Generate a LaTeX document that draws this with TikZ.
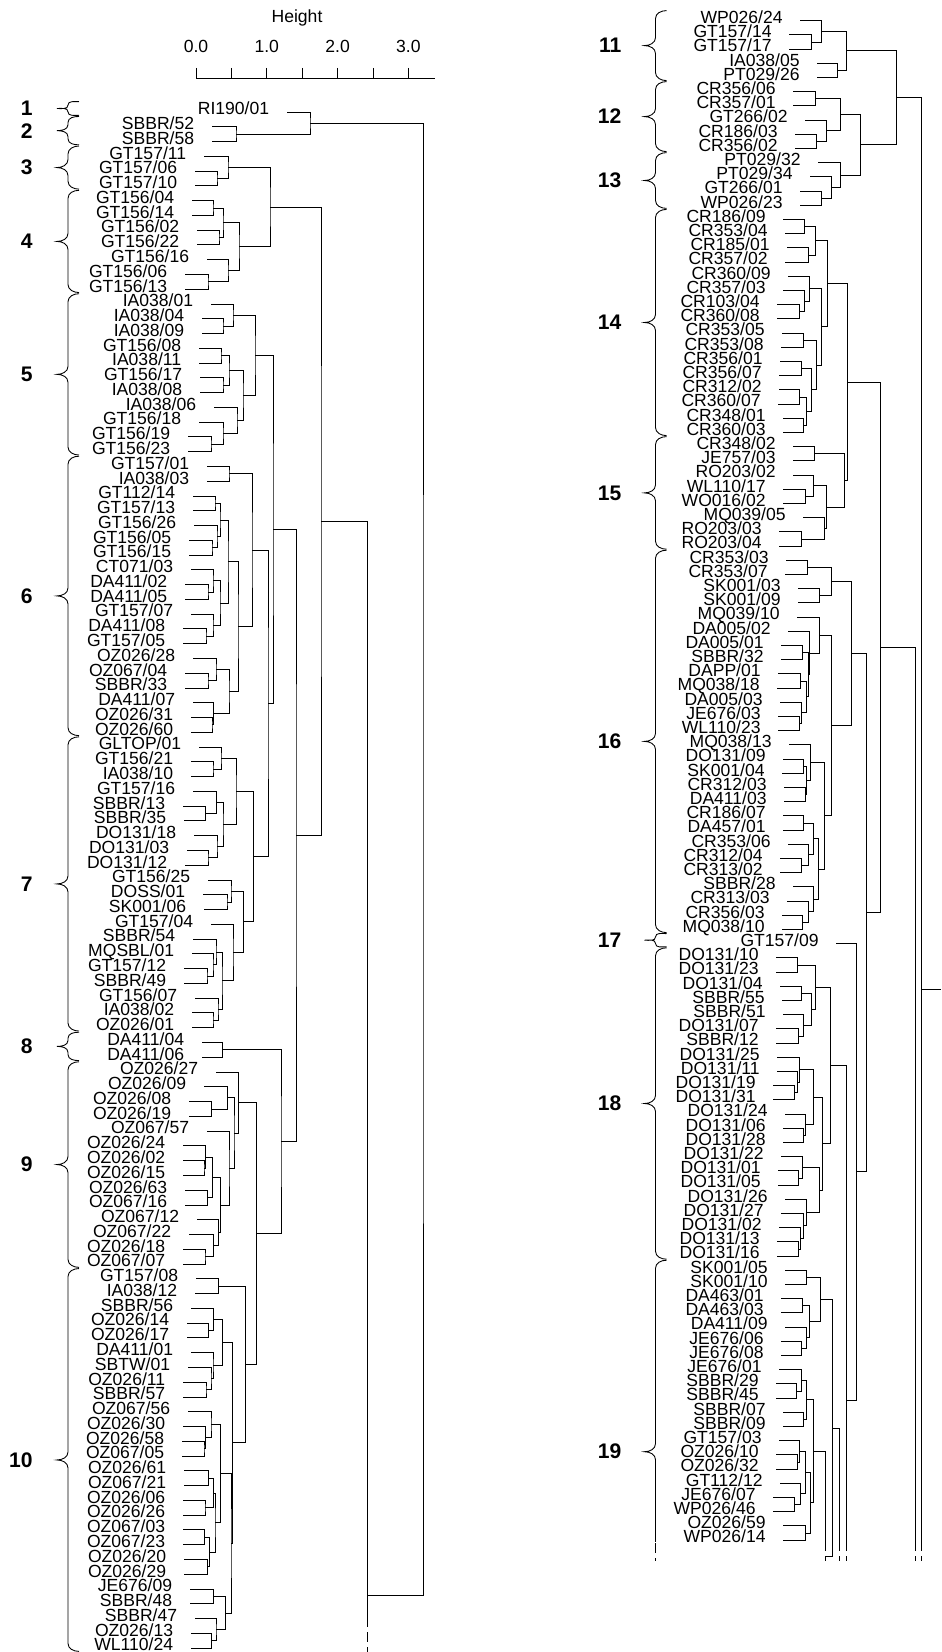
\documentclass[tikz,border=0pt]{standalone}
\usepackage{fontspec}
\setmainfont{Liberation Sans}
\usetikzlibrary{calc,positioning}
\tikzset{
  link/.style={line width=0.55pt,black},
  lab/.style={font=\fontsize{10}{10}\selectfont,inner sep=0pt,text height=7.2pt,text depth=0pt},
  num/.style={font=\bfseries\fontsize{12}{12}\selectfont,inner sep=0pt,anchor=east},
  brl/.style={line width=0.5pt},
  dsh/.style={dash pattern=on 0.2cm off 0.1cm}
}
% one merge: name, child a, child b, height (x)
\newcommand\merge[4]{%
  \coordinate (tmpmid) at ($(#2)!0.5!(#3)$);
  \coordinate (tmpx) at (#4,0);
  \coordinate (#1) at (tmpx |- tmpmid);
  \draw[link] (#2) -| (#1) |- (#3);
}
% curly brace: x of ends, top, bottom, curl height
\newcommand\cbr[4]{%
  \draw[brl] (#1,#2) to[out=180,in=90] ({#1-11},{#2+#4}) -- ({#1-11},{(#2+#3)/2-#4})
    to[out=-90,in=0] ({#1-22},{(#2+#3)/2}) to[out=0,in=90] ({#1-11},{(#2+#3)/2+#4})
    -- ({#1-11},{#3-#4}) to[out=-90,in=180] (#1,#3);
}

\begin{document}
\begin{tikzpicture}[x=0.02cm,y=-0.02cm]
\useasboundingbox (0,0) rectangle (941,1652);

% height axis
\coordinate (ax0) at (196,78.7);
\coordinate (ax1) at (435,78.7);
\draw[link] (ax0) -- (ax1);
\foreach \t in {0,...,6} \draw[link] ({196+\t*35.4},68) -- ({196+\t*35.4},78.7);
\foreach \v [count=\k from 0] in {0.0,1.0,2.0,3.0} \node[lab] (tk\k) at ({196+\k*70.8},46) {\v};
\node[lab] (ht) at (297,16) {Height};

% left leaves
\foreach \lab/\xs [count=\i from 0] in {{RI190/01}/287, {SBBR/52}/212, {SBBR/58}/212, {GT157/11}/204, {GT157/06}/195, {GT157/10}/195, {GT156/04}/192, {GT156/14}/192, {GT156/02}/197, {GT156/22}/197, {GT156/16}/207, {GT156/06}/185, {GT156/13}/185, {IA038/01}/211, {IA038/04}/202, {IA038/09}/202, {GT156/08}/199, {IA038/11}/199, {GT156/17}/200, {IA038/08}/200, {IA038/06}/214, {GT156/18}/199, {GT156/19}/188, {GT156/23}/188, {GT157/01}/207, {IA038/03}/207, {GT112/14}/193, {GT157/13}/193, {GT156/26}/194, {GT156/05}/189, {GT156/15}/189, {CT071/03}/191, {DA411/02}/185, {DA411/05}/185, {GT157/07}/191, {DA411/08}/183, {GT157/05}/183, {OZ026/28}/193, {OZ067/04}/185, {SBBR/33}/185, {DA411/07}/193, {OZ026/31}/191, {OZ026/60}/191, {GLTOP/01}/199, {GT156/21}/191, {IA038/10}/191, {GT157/16}/193, {SBBR/13}/183, {SBBR/35}/184, {DO131/18}/194, {DO131/03}/187, {DO131/12}/185, {GT156/25}/208, {DOSS/01}/203, {SK001/06}/204, {GT157/04}/211, {SBBR/54}/193, {MQSBL/01}/192, {GT157/12}/184, {SBBR/49}/184, {GT156/07}/195, {IA038/02}/192, {OZ026/01}/192, {DA411/04}/202, {DA411/06}/202, {OZ026/27}/216, {OZ026/09}/204, {OZ026/08}/189, {OZ026/19}/189, {OZ067/57}/207, {OZ026/24}/183, {OZ026/02}/183, {OZ026/15}/183, {OZ026/63}/185, {OZ067/16}/185, {OZ067/12}/197, {OZ067/22}/189, {OZ026/18}/183, {OZ067/07}/183, {GT157/08}/196, {IA038/12}/195, {SBBR/56}/191, {OZ026/14}/187, {OZ026/17}/187, {DA411/01}/191, {SBTW/01}/188, {OZ026/11}/183, {SBBR/57}/183, {OZ067/56}/188, {OZ026/30}/183, {OZ026/58}/182, {OZ067/05}/182, {OZ026/61}/184, {OZ067/21}/184, {OZ026/06}/183, {OZ026/26}/183, {OZ067/03}/183, {OZ067/23}/183, {OZ026/20}/184, {OZ026/29}/184, {JE676/09}/190, {SBBR/48}/190, {SBBR/47}/195, {OZ026/13}/191, {WL110/24}/191}{
  \coordinate (L\i) at (\xs,{112+\i*14.77});
  \node[lab,left=0.35cm of L\i,yshift=2pt] (Lt\i) {\lab};
}

% right leaves
\foreach \lab/\xs [count=\i from 0] in {{WP026/24}/800, {GT157/14}/789, {GT157/17}/789, {IA038/05}/817, {PT029/26}/817, {CR356/06}/793, {CR357/01}/793, {GT266/02}/805, {CR186/03}/795, {CR356/02}/795, {PT029/32}/818, {PT029/34}/810, {GT266/01}/800, {WP026/23}/800, {CR186/09}/783, {CR353/04}/785, {CR185/01}/787, {CR357/02}/785, {CR360/09}/788, {CR357/03}/783, {CR103/04}/777, {CR360/08}/777, {CR353/05}/782, {CR353/08}/781, {CR356/01}/780, {CR356/07}/779, {CR312/02}/779, {CR360/07}/778, {CR348/01}/783, {CR360/03}/783, {CR348/02}/793, {JE757/03}/793, {RO203/02}/793, {WL110/17}/783, {WO016/02}/783, {MQ039/05}/803, {RO203/03}/779, {RO203/04}/779, {CR353/03}/786, {CR353/07}/785, {SK001/03}/798, {SK001/09}/798, {MQ039/10}/797, {DA005/02}/788, {DA005/01}/781, {SBBR/32}/781, {DAPP/01}/778, {MQ038/18}/777, {DA005/03}/780, {JE676/03}/778, {WL110/23}/778, {MQ038/13}/789, {DO131/09}/783, {SK001/04}/782, {CR312/03}/784, {DA411/03}/784, {CR186/07}/783, {DA457/01}/783, {CR353/06}/788, {CR312/04}/780, {CR313/02}/780, {SBBR/28}/793, {CR313/03}/787, {CR356/03}/782, {MQ038/10}/782, {GT157/09}/836, {DO131/10}/776, {DO131/23}/776, {DO131/04}/780, {SBBR/55}/782, {SBBR/51}/783, {DO131/07}/776, {SBBR/12}/776, {DO131/25}/777, {DO131/11}/777, {DO131/19}/773, {DO131/31}/773, {DO131/24}/785, {DO131/06}/783, {DO131/28}/783, {DO131/22}/781, {DO131/01}/778, {DO131/05}/778, {DO131/26}/785, {DO131/27}/781, {DO131/02}/779, {DO131/13}/777, {DO131/16}/777, {SK001/05}/785, {SK001/10}/785, {DA463/01}/781, {DA463/03}/781, {DA411/09}/785, {JE676/06}/781, {JE676/08}/781, {JE676/01}/779, {SBBR/29}/776, {SBBR/45}/776, {SBBR/07}/783, {SBBR/09}/783, {GT157/03}/779, {OZ026/10}/776, {OZ026/32}/776, {GT112/12}/780, {JE676/07}/773, {WP026/46}/773, {OZ026/59}/783, {WP026/14}/783}{
  \coordinate (R\i) at (\xs,{20.7+\i*14.2});
  \node[lab,left=0.34cm of R\i,yshift=2pt] (Rt\i) {\lab};
}

% braces and group numbers
\foreach \nb/\ia/\ib/\c in {1/0/0/3.4,2/1/2/6,3/3/5/8,4/6/12/8,5/13/23/8,6/24/42/8,7/43/62/8,8/63/64/6,9/65/78/8,10/79/104/8}{
  \cbr{79}{112+\ia*14.77-10.3}{112+\ib*14.77+3.3}{\c}
  \node[num] (nl\nb) at (33,{112+(\ia+\ib)*7.385-3.5}) {\nb};
}
\foreach \nb/\ia/\ib/\c in {11/0/4/8,12/5/9/8,13/10/13/8,14/14/29/8,15/30/37/8,16/38/64/8,17/65/65/3.3,18/66/87/8}{
  \cbr{666.5}{20.7+\ia*14.2-10.1}{20.7+\ib*14.2+3.1}{\c}
  \node[num] (nr\nb) at (621.7,{20.7+(\ia+\ib)*7.1-3.5}) {\nb};
}
\begin{scope}
\clip (600,1200) rectangle (700,1541);
\cbr{666.5}{1260.2}{1643.2}{8}
\end{scope}
\draw[brl,dsh] (655.5,1543) -- (655.5,1561);
\node[num] (nr19) at (621.7,1451.7) {19};

% cluster 1-2
\merge{a1}{L1}{L2}{236}
\merge{a2}{L0}{a1}{310}
% cluster 3-4
\merge{b1}{L4}{L5}{217}
\merge{b2}{L3}{b1}{228}
\merge{c1}{L6}{L7}{213}
\merge{c2}{L8}{L9}{219}
\merge{c3}{c1}{c2}{223}
\merge{c4}{L11}{L12}{208}
\merge{c5}{L10}{c4}{228}
\merge{c6}{c3}{c5}{239}
\merge{c7}{b2}{c6}{270}
% cluster 5
\merge{d1}{L14}{L15}{223}
\merge{d2}{L13}{d1}{233}
\merge{d3}{L16}{L17}{221}
\merge{d4}{L18}{L19}{223}
\merge{d5}{d3}{d4}{229}
\merge{d6}{L22}{L23}{211}
\merge{d7}{L21}{d6}{223}
\merge{d8}{L20}{d7}{237}
\merge{d9}{d5}{d8}{243}
\merge{d10}{d2}{d9}{255}
% cluster 6
\merge{e1}{L24}{L25}{229}
\merge{e2}{L26}{L27}{215}
\merge{e3}{L29}{L30}{212}
\merge{e4}{L28}{e3}{217}
\merge{e5}{e2}{e4}{220}
\merge{e6}{L32}{L33}{208}
\merge{e7}{L31}{e6}{213}
\merge{e8}{L35}{L36}{206}
\merge{e9}{L34}{e8}{213}
\merge{e10}{e7}{e9}{220}
\merge{e11}{e5}{e10}{228}
\merge{e12}{L38}{L39}{208}
\merge{e13}{L37}{e12}{216}
\merge{e14}{L41}{L42}{212}
\merge{e15}{L40}{e14}{213.5}
\merge{e16}{e13}{e15}{229}
\merge{e17}{e11}{e16}{238}
\merge{e18}{e1}{e17}{252}
% cluster 7
\merge{f1}{L44}{L45}{213}
\merge{f2}{L43}{f1}{221}
\merge{f3}{L47}{L48}{205.7}
\merge{f4}{L46}{f3}{216.7}
\merge{f5}{L50}{L51}{208}
\merge{f6}{L49}{f5}{217}
\merge{f7}{f4}{f6}{223}
\merge{f8}{f2}{f7}{236}
\merge{f9}{L53}{L54}{227}
\merge{f10}{L52}{f9}{231}
\merge{f11}{L58}{L59}{207}
\merge{f12}{L57}{f11}{213}
\merge{f13}{L56}{f12}{216}
\merge{f14}{L61}{L62}{213}
\merge{f15}{L60}{f14}{218}
\merge{f16}{f13}{f15}{222}
\merge{f17}{L55}{f16}{233}
\merge{f18}{f10}{f17}{243.3}
\merge{f19}{f8}{f18}{253.3}
\merge{g1}{e18}{f19}{268}
\merge{g2}{d10}{g1}{273}
% cluster 8-9
\merge{h1}{L63}{L64}{222.7}
\merge{i1}{L67}{L68}{211.7}
\merge{i2}{L66}{i1}{227.7}
\merge{i3}{L71}{L72}{204}
\merge{i4}{L70}{i3}{205.7}
\merge{i5}{L73}{L74}{207.7}
\merge{i6}{i4}{i5}{212.3}
\merge{i7}{L77}{L78}{205}
\merge{i8}{L76}{i7}{213.3}
\merge{i9}{L75}{i8}{218.3}
\merge{i10}{i6}{i9}{220.7}
\merge{i11}{L69}{i10}{229}
\merge{i12}{i2}{i11}{234}
\merge{i13}{L65}{i12}{238.3}
% cluster 10
\merge{j1}{L79}{L80}{218.3}
\merge{j2}{L82}{L83}{208.3}
\merge{j3}{L81}{j2}{213.3}
\merge{j4}{L86}{L87}{206}
\merge{j5}{L85}{j4}{211}
\merge{j6}{L84}{j5}{213}
\merge{j7}{j3}{j6}{222.7}
\merge{j8}{L90}{L91}{204}
\merge{j9}{L89}{j8}{205.7}
\merge{j10}{L88}{j9}{211}
\merge{j11}{L92}{L93}{208.3}
\merge{j12}{L94}{L95}{205}
\merge{j13}{j11}{j12}{213.3}
\merge{j14}{L96}{L97}{204.3}
\merge{j15}{L98}{L99}{207.7}
\merge{j16}{j14}{j15}{209.3}
\merge{j17}{j13}{j16}{215}
\merge{j18}{j10}{j17}{220.7}
\merge{j19}{L100}{L101}{213.3}
\merge{j20}{L103}{L104}{211.7}
\merge{j21}{L102}{j20}{216}
\merge{j22}{j19}{j21}{225.7}
\merge{j23}{j18}{j22}{231}
\merge{j24}{j7}{j23}{232.3}
\merge{j25}{j1}{j24}{245.7}
\merge{k1}{i13}{j25}{256.7}
\merge{k2}{h1}{k1}{281}
\merge{k3}{g2}{k2}{296}
\merge{k4}{c7}{k3}{321}
\coordinate (k5) at (367,1595);
\merge{k6}{a2}{k5}{423}
\coordinate (k5cut) at (367,1617);
\coordinate (k5end) at (367,1652);
\draw[link] (k4) -| (k5cut);
\draw[link,dsh] (k5cut) -- (k5end);

% cluster 11-13
\merge{m1}{R1}{R2}{811.7}
\merge{m2}{R0}{m1}{821.7}
\merge{m3}{R3}{R4}{837.7}
\merge{m4}{m2}{m3}{846.7}
\merge{n1}{R5}{R6}{815}
\merge{n2}{R8}{R9}{816.7}
\merge{n3}{R7}{n2}{826.7}
\merge{n4}{n1}{n3}{840}
\merge{o1}{R12}{R13}{821.7}
\merge{o2}{R11}{o1}{831.7}
\merge{o3}{R10}{o2}{840.7}
\merge{o4}{n4}{o3}{860}
\merge{o5}{m4}{o4}{896}
% cluster 14-15
\merge{p1}{R14}{R15}{804.3}
\merge{p2}{R16}{R17}{808.3}
\merge{p3}{p1}{p2}{815}
\merge{p4}{R20}{R21}{799.3}
\merge{p5}{R19}{p4}{804.3}
\merge{p6}{R18}{p5}{809.3}
\merge{p7}{R22}{R23}{803.3}
\merge{p8}{R24}{R25}{801}
\merge{p9}{R26}{R27}{799.3}
\merge{p10}{R28}{R29}{803.3}
\merge{p11}{p9}{p10}{806}
\merge{p12}{p8}{p11}{811.7}
\merge{p13}{p7}{p12}{816.7}
\merge{p14}{p6}{p13}{821.7}
\merge{p15}{p3}{p14}{827.3}
\merge{q1}{R30}{R31}{814}
\merge{q2}{R33}{R34}{805}
\merge{q3}{R32}{q2}{813.3}
\merge{q4}{R36}{R37}{801}
\merge{q5}{R35}{q4}{824.3}
\merge{q6}{q3}{q5}{826.7}
\merge{q7}{q1}{q6}{844}
\merge{q8}{p15}{q7}{847.7}
% cluster 16
\merge{s1}{R38}{R39}{807.3}
\merge{s2}{R40}{R41}{819}
\merge{s3}{s1}{s2}{831.7}
\merge{s4}{R44}{R45}{802.7}
\merge{s5}{R46}{R47}{800}
\merge{s6}{R49}{R50}{799.3}
\merge{s7}{R48}{s6}{801}
\merge{s8}{s5}{s7}{806}
\merge{s9}{s4}{s8}{808}
\merge{s10}{R43}{s9}{809.3}
\merge{s11}{R42}{s10}{819}
\merge{s12}{R52}{R53}{803.3}
\merge{s13}{R54}{R55}{805}
\merge{s14}{s12}{s13}{806.7}
\merge{s15}{R51}{s14}{810}
\merge{s16}{R56}{R57}{803.3}
\merge{s17}{R59}{R60}{801.7}
\merge{s18}{R58}{s17}{808.3}
\merge{s19}{s16}{s18}{813.3}
\merge{s20}{R63}{R64}{802.7}
\merge{s21}{R62}{s20}{808.3}
\merge{s22}{R61}{s21}{813.3}
\merge{s23}{s19}{s22}{818.3}
\merge{s24}{s15}{s23}{824}
\merge{s25}{s11}{s24}{831.7}
\merge{s26}{s3}{s25}{851}
% cluster 18
\merge{t1}{R66}{R67}{797.7}
\merge{t2}{R68}{R69}{801.7}
\merge{t3}{R71}{R72}{798.3}
\merge{t4}{R70}{t3}{803.3}
\merge{t5}{t2}{t4}{811.7}
\merge{t6}{t1}{t5}{815}
\merge{t7}{R75}{R76}{794}
\merge{t8}{R74}{t7}{797}
\merge{t9}{R73}{t8}{799.3}
\merge{t10}{R78}{R79}{803.3}
\merge{t11}{R77}{t10}{805}
\merge{t12}{t9}{t11}{813.3}
\merge{t13}{R81}{R82}{798.3}
\merge{t14}{R80}{t13}{802.7}
\merge{t15}{R86}{R87}{798.3}
\merge{t16}{R85}{t15}{800}
\merge{t17}{R84}{t16}{803.3}
\merge{t18}{R83}{t17}{806.7}
\merge{t19}{t14}{t18}{819}
\merge{t20}{t12}{t19}{822.7}
\merge{t21}{t6}{t20}{830}
% cluster 19
\merge{u1}{R88}{R89}{806.7}
\merge{u2}{R90}{R91}{802.7}
\merge{u3}{R93}{R94}{801.7}
\merge{u4}{R92}{u3}{806}
\merge{u5}{u2}{u4}{809}
\merge{u6}{u1}{u5}{820}
\merge{u7}{R96}{R97}{796.7}
\merge{u8}{R95}{u7}{801}
\merge{u9}{R98}{R99}{803.3}
\merge{u10}{u8}{u9}{806.7}
\merge{u11}{R101}{R102}{797.7}
\merge{u12}{R100}{u11}{799.3}
\merge{u13}{R104}{R105}{794.3}
\merge{u14}{R103}{u13}{800}
\merge{u15}{u12}{u14}{805}
\merge{u16}{R106}{R107}{805}
\merge{u17}{u15}{u16}{810}
\merge{u18}{u10}{u17}{813.3}
% upper levels, cut at the bottom
\coordinate (u19) at (825.7,1556.7);
\coordinate (u19cut) at (825.7,1541);
\coordinate (u19end) at (825.7,1561);
\draw[link] (u18) -| (u19cut);
\draw[link,dsh] (u19cut) -- (u19end);
\merge{u20}{u6}{u19}{832.7}
\coordinate (u21cut) at (839,1541);
\coordinate (u21end) at (839,1561);
\draw[link] (u20) -| (u21cut);
\draw[link,dsh] (u21cut) -- (u21end);
\coordinate (t22) at (846.7,1400);
\coordinate (t22cut) at (846.7,1541);
\coordinate (t22end) at (846.7,1561);
\draw[link] (t21) -| (t22cut);
\draw[link,dsh] (t22cut) -- (t22end);
\merge{v1}{R65}{t22}{856.7}
\merge{v2}{s26}{v1}{866.7}
\merge{v3}{q8}{v2}{880}
\coordinate (v4cut) at (915,1541);
\coordinate (v4end) at (915,1561);
\draw[link] (v3) -| (v4cut);
\draw[link,dsh] (v4cut) -- (v4end);
\coordinate (v5) at (921.7,989);
\coordinate (v5out) at (941,989);
\coordinate (v5cut) at (921.7,1541);
\coordinate (v5end) at (921.7,1561);
\draw[link] (o5) -| (v5cut);
\draw[link,dsh] (v5cut) -- (v5end);
\draw[link] (v5) -- (v5out);
\end{tikzpicture}
\end{document}
